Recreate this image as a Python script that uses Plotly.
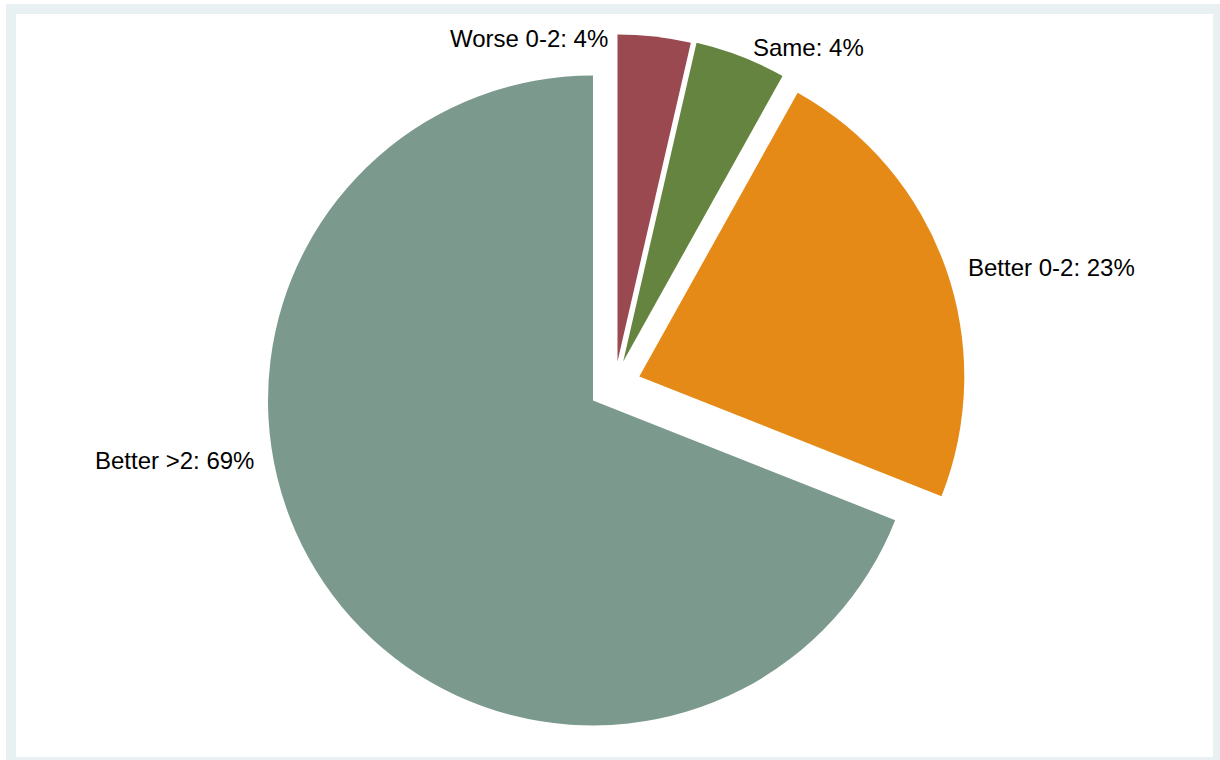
import plotly.graph_objects as go

# Data (percent shares), in drawing order from 12 o'clock clockwise
categories = ["Worse 0-2", "Same", "Better 0-2", "Better >2"]
shares = [3.6, 4.5, 22.9, 69.0]
colors = ["#9b4950", "#64843f", "#e68a17", "#7c998e"]

# exploded-slice centres (pixels) and radii: each slice drawn by its own pie trace
slice_centres = [(617.5, 361.5), (623.2, 361.5), (639.3, 376.5), (593.0, 400.5)]
slice_radius = [327, 327, 325, 325]

# label anchor positions in pixels (text centres) for the outside labels
label_px = [(529, 38), (808, 48), (1051, 267), (174, 460)]

W, H = 1220, 760
total = sum(shares)
label_texts = [f"{c}: {round(v / total * 100)}%" for c, v in zip(categories, shares)]

fig = go.Figure()
for i, ((cx, cy), r) in enumerate(zip(slice_centres, slice_radius)):
    cols = [colors[j] if j == i else "rgba(0,0,0,0)" for j in range(len(categories))]
    fig.add_trace(go.Pie(
        labels=categories,
        values=shares,
        sort=False,
        direction="clockwise",
        rotation=0,
        marker=dict(colors=cols, line=dict(width=0)),
        textinfo="none",
        hoverinfo="label+percent" if True else "skip",
        showlegend=False,
        domain=dict(x=[(cx - r) / W, (cx + r) / W], y=[1 - (cy + r) / H, 1 - (cy - r) / H]),
    ))

annotations = []
for txt, (px, py) in zip(label_texts, label_px):
    annotations.append(dict(
        x=px / W, y=1 - py / H, xref="paper", yref="paper",
        text=txt, showarrow=False, xanchor="center", yanchor="middle",
        font=dict(family="Liberation Sans, Arial, sans-serif", size=24, color="#000000"),
    ))

shapes = [
    dict(type="rect", xref="paper", yref="paper", x0=6 / W, x1=1, y0=0, y1=1 - 4 / H,
         fillcolor="#e8f0f2", line=dict(width=0), layer="below"),
    dict(type="rect", xref="paper", yref="paper", x0=16 / W, x1=1213 / W, y0=1 - 757 / H, y1=1 - 14 / H,
         fillcolor="#ffffff", line=dict(width=0), layer="below"),
]

fig.update_layout(
    width=W, height=H,
    margin=dict(l=0, r=0, t=0, b=0),
    paper_bgcolor="#ffffff",
    plot_bgcolor="#ffffff",
    annotations=annotations,
    shapes=shapes,
)

fig.write_html("out.html")
